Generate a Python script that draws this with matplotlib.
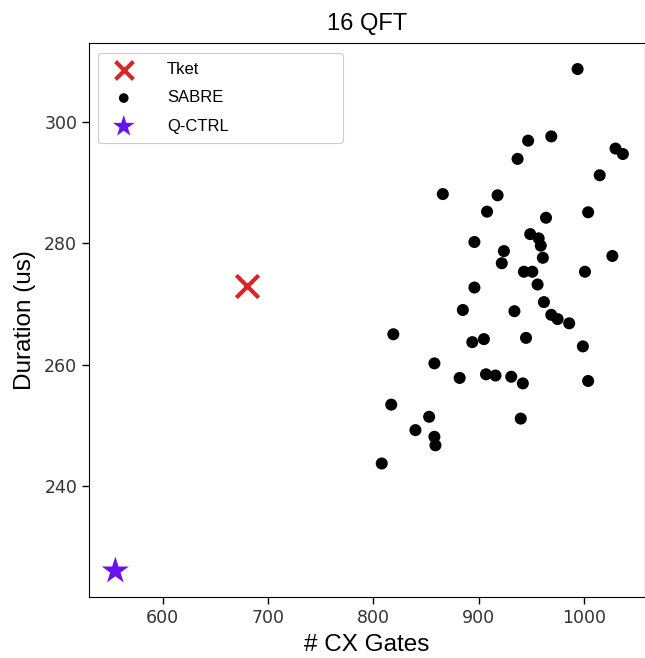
import matplotlib.pyplot as plt
import numpy as np

# data
tket_cx = [680]
tket_dur = [273]
qctrl_cx = [555]
qctrl_dur = [226]

sabre_cx = [994, 947, 969, 1030, 1037, 937, 1015, 866, 918, 908,
            1004, 964, 896, 949, 957, 959, 924, 922, 961, 1027,
            943, 951, 1001, 956, 896, 962, 885, 934, 969, 975,
            986, 819, 894, 905, 945, 999, 858, 882, 907, 916,
            931, 942, 1004, 817, 853, 940, 840, 858, 859, 808]
sabre_dur = [308.7, 296.9, 297.6, 295.6, 294.7, 293.9, 291.2, 288.1, 287.9, 285.2,
             285.1, 284.2, 280.2, 281.5, 280.8, 279.6, 278.7, 276.7, 277.6, 277.9,
             275.3, 275.3, 275.3, 273.2, 272.7, 270.3, 269.0, 268.8, 268.2, 267.5,
             266.8, 265.0, 263.7, 264.2, 264.4, 263.0, 260.2, 257.8, 258.4, 258.2,
             258.0, 256.9, 257.3, 253.4, 251.4, 251.1, 249.2, 248.1, 246.7, 243.7]

xticks = [600, 700, 800, 900, 1000]
yticks = [240, 260, 280, 300]

fig = plt.figure(figsize=(6.45, 6.58), dpi=100)
ax = fig.add_axes([0.138, 0.0927, 0.862, 0.842])

ax.scatter(tket_cx, tket_dur, marker='x', s=260, color='#d62728', linewidths=3, label='Tket', zorder=3)
ax.scatter(sabre_cx, sabre_dur, marker='o', s=75, color='black', edgecolors='none', label='SABRE', zorder=3)
ax.scatter(qctrl_cx, qctrl_dur, marker='*', s=420, color='#6a11f0', edgecolors='none', label='Q-CTRL', zorder=3)

ax.set_xlim(530, 1058)
ax.set_ylim(221.7, 313)
ax.set_xticks(xticks)
ax.set_yticks(yticks)
ax.tick_params(labelsize=12.5, labelcolor='#333333', length=5, width=1)
for lab in ax.get_xticklabels() + ax.get_yticklabels():
    lab.set_family('DejaVu Sans')

ax.set_xlabel('# CX Gates', fontsize=17.5, family='Liberation Sans', labelpad=5)
ax.set_ylabel('Duration (us)', fontsize=17.5, family='Liberation Sans', labelpad=6)
ax.set_title('16 QFT', fontsize=17, family='Liberation Sans', pad=9)

leg = ax.legend(loc='upper left', bbox_to_anchor=(0.016, 0.982, 0.44, 0), mode='expand',
                borderaxespad=0, prop={'family': 'Liberation Sans', 'size': 12},
                handletextpad=1.6, labelspacing=0.8, borderpad=0.55,
                markerscale=0.8, framealpha=1, edgecolor='#cccccc')
leg.get_frame().set_linewidth(0.8)

fig.savefig('out.png', dpi=100)
